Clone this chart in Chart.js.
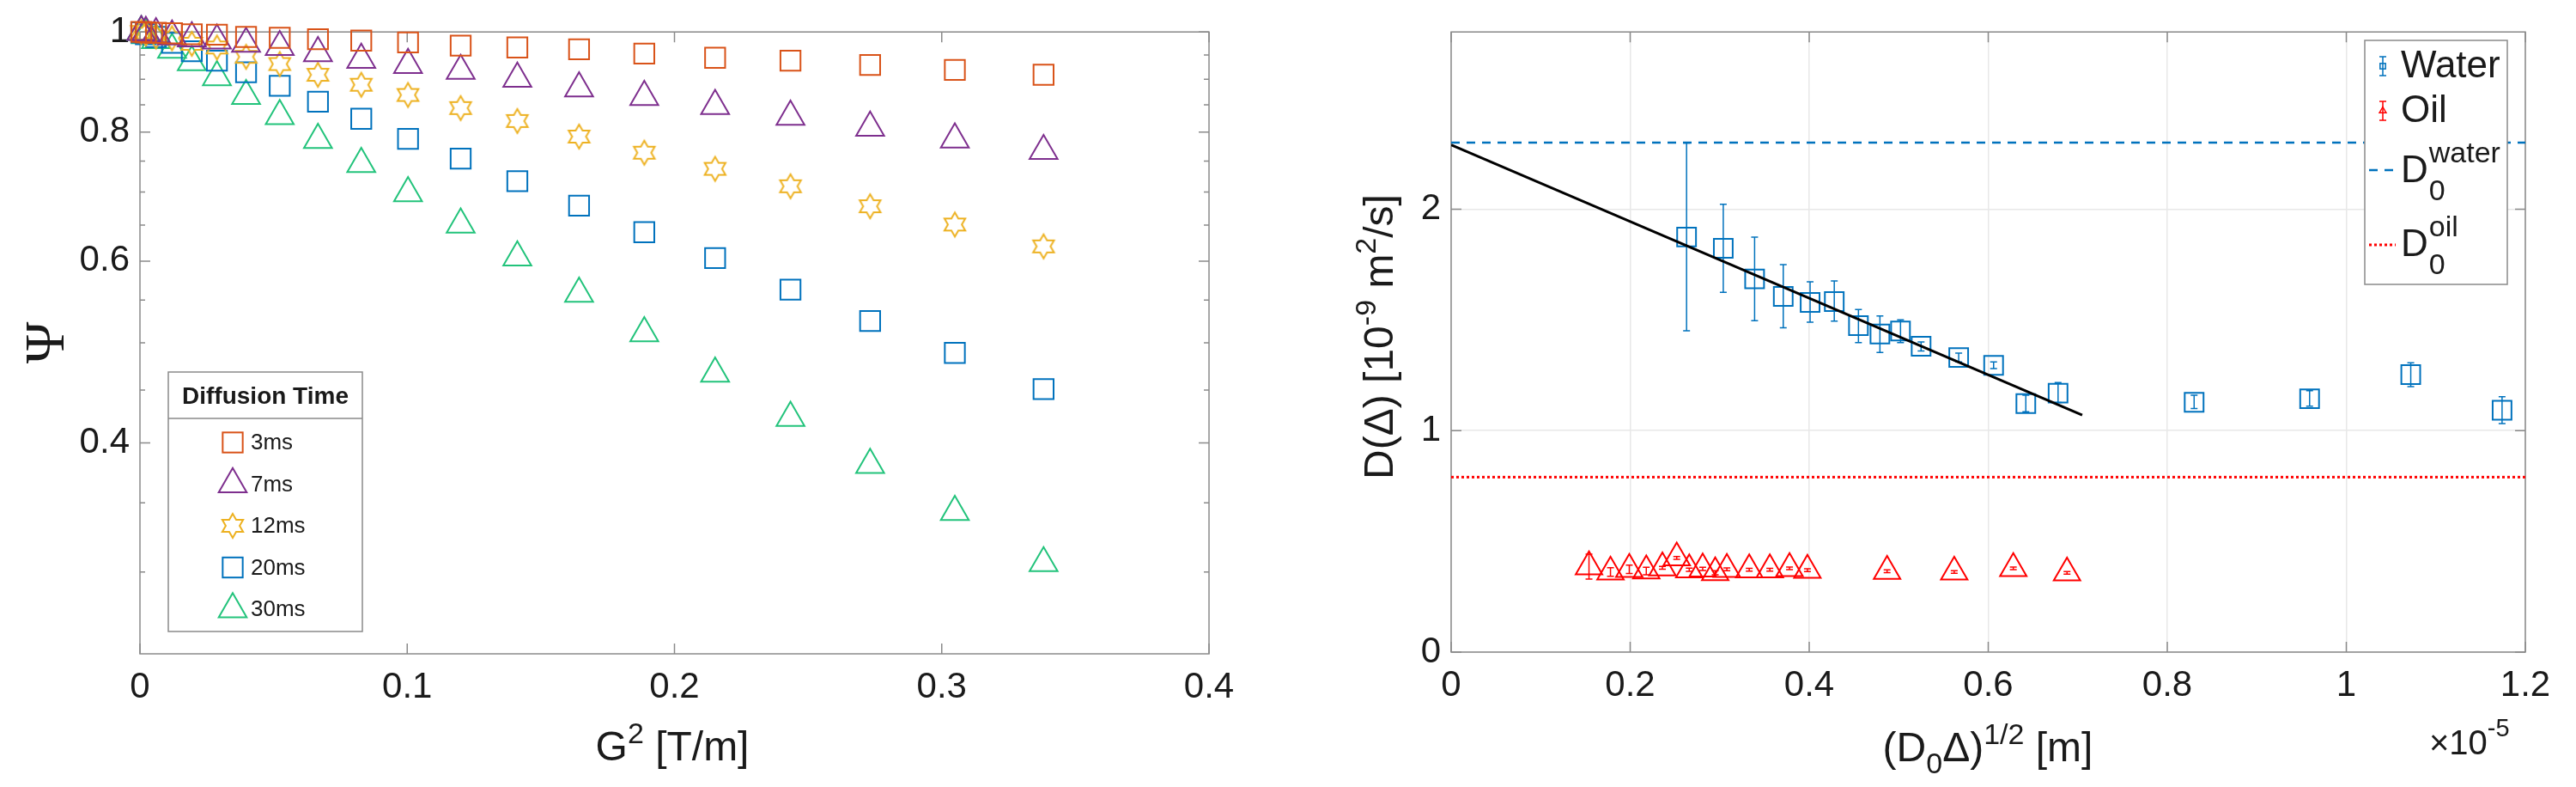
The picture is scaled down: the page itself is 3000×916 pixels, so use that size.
<!DOCTYPE html>
<html lang="en">
<head>
<meta charset="UTF-8">
<title>Diffusion time dependence</title>
<script src="https://cdn.jsdelivr.net/npm/chart.js"></script>
<style>
  html, body { margin: 0; padding: 0; background: #fff; }
  #wrap { position: relative; width: 3000px; height: 916px; }
  .panel { position: absolute; top: 0; width: 1500px; height: 916px; }
</style>
</head>
<body>
<div id="wrap">
  <div class="panel" style="left:0"><canvas id="left"></canvas></div>
  <div class="panel" style="left:1500px"><canvas id="right"></canvas></div>
</div>
<script>
// ---- left panel: signal attenuation vs G^2 ----
const g2 = [0.0005, 0.0022, 0.006, 0.012, 0.0194, 0.0288, 0.0397, 0.0523, 0.0666, 0.0828,
            0.1003, 0.12, 0.1412, 0.1643, 0.1887, 0.2152, 0.2434, 0.2732, 0.3049, 0.3381];
const psi3ms  = [1.0, 0.999, 0.998, 0.997, 0.995, 0.994, 0.989, 0.987, 0.984, 0.981,
                 0.977, 0.970, 0.966, 0.962, 0.953, 0.944, 0.938, 0.929, 0.919, 0.909];
const psi7ms  = [1.0, 0.998, 0.995, 0.990, 0.986, 0.981, 0.974, 0.967, 0.954, 0.940,
                 0.929, 0.917, 0.901, 0.882, 0.865, 0.848, 0.828, 0.808, 0.787, 0.767];
const psi12ms = [1.0, 0.996, 0.990, 0.986, 0.974, 0.966, 0.946, 0.931, 0.909, 0.889,
                 0.869, 0.844, 0.820, 0.792, 0.764, 0.737, 0.709, 0.678, 0.651, 0.620];
const psi20ms = [0.999, 0.995, 0.989, 0.976, 0.958, 0.938, 0.914, 0.887, 0.856, 0.824,
                 0.788, 0.754, 0.717, 0.679, 0.640, 0.604, 0.563, 0.525, 0.489, 0.451];
const psi30ms = [1.0, 0.993, 0.982, 0.961, 0.935, 0.904, 0.867, 0.829, 0.786, 0.745,
                 0.698, 0.651, 0.605, 0.558, 0.511, 0.467, 0.423, 0.381, 0.343, 0.306];
const diffusionLabels = ['3ms', '7ms', '12ms', '20ms', '30ms'];
const g2Ticks = [0, 0.1, 0.2, 0.3, 0.4];
const psiTicks = [0.4, 0.6, 0.8, 1];
const psiMinorTicks = [0.3, 0.35, 0.45, 0.5, 0.55, 0.65, 0.7, 0.75, 0.85, 0.9, 0.95];

// ---- right panel: D(Delta) vs (D0 Delta)^1/2, x in units of 1e-5 m ----
const waterX  = [0.263, 0.304, 0.339, 0.371, 0.401, 0.428, 0.455, 0.479, 0.502, 0.525,
                 0.567, 0.606, 0.642, 0.678, 0.830, 0.959, 1.072, 1.174];
const waterD  = [1.874, 1.823, 1.685, 1.606, 1.579, 1.583, 1.474, 1.436, 1.450, 1.381,
                 1.330, 1.295, 1.122, 1.169, 1.128, 1.144, 1.253, 1.092];
const waterLo = [1.451, 1.624, 1.496, 1.464, 1.490, 1.494, 1.397, 1.353, 1.397, 1.360,
                 1.310, 1.280, 1.085, 1.127, 1.100, 1.110, 1.199, 1.032];
const waterHi = [2.298, 2.022, 1.874, 1.750, 1.672, 1.676, 1.547, 1.518, 1.500, 1.400,
                 1.350, 1.310, 1.160, 1.217, 1.160, 1.180, 1.306, 1.153];
const oilX  = [0.154, 0.178, 0.199, 0.218, 0.236, 0.252, 0.266, 0.281, 0.295, 0.308,
               0.333, 0.356, 0.378, 0.398, 0.487, 0.562, 0.628, 0.688];
const oilD  = [0.386, 0.362, 0.374, 0.367, 0.381, 0.426, 0.372, 0.376, 0.359, 0.374,
               0.372, 0.372, 0.378, 0.370, 0.365, 0.362, 0.378, 0.358];
const oilLo = [0.330, 0.342, 0.355, 0.349, 0.374, 0.419, 0.365, 0.369, 0.349, 0.368,
               0.366, 0.366, 0.372, 0.364, 0.359, 0.356, 0.372, 0.352];
const oilHi = [0.442, 0.381, 0.393, 0.383, 0.387, 0.432, 0.379, 0.383, 0.368, 0.380,
               0.378, 0.378, 0.384, 0.376, 0.371, 0.368, 0.384, 0.364];
const fitX = [0, 0.705];
const fitD = [2.29, 1.07];
const d0Water = 2.3;
const d0Oil = 0.79;
const rootTicks = [0, 0.2, 0.4, 0.6, 0.8, 1, 1.2];
const dTicks = [0, 1, 2];

const FONT = "'Liberation Sans', Arial, Helvetica, sans-serif";
const INK = '#1a1a1a';
const FRAME = '#8a8a8a';
const C3 = '#D95319', C7 = '#7E2F8E', C12 = '#EDB120', C20 = '#0072BD', C30 = '#22C37B';
const WATER = '#0072BD', OIL = '#FF0000';

function hexagram(color, R, lw) {
  const size = Math.ceil(2 * R + 2 * lw + 2);
  const c = document.createElement('canvas');
  c.width = c.height = size;
  const g = c.getContext('2d');
  const m = size / 2;
  g.beginPath();
  for (let k = 0; k < 12; k++) {
    const a = -Math.PI / 2 + k * Math.PI / 6;
    const r = k % 2 ? R / Math.sqrt(3) : R;
    const px = m + r * Math.cos(a), py = m + r * Math.sin(a);
    k ? g.lineTo(px, py) : g.moveTo(px, py);
  }
  g.closePath();
  g.strokeStyle = color; g.lineWidth = lw; g.stroke();
  return c;
}
const starStyle = hexagram(C12, 14, 2);

function pts(xs, ys) { return xs.map((x, i) => ({x, y: ys[i]})); }
function errSegments(xs, lo, hi) {
  const out = [];
  xs.forEach((x, i) => out.push({x, y: lo[i]}, {x, y: hi[i]}, {x, y: null}));
  return out;
}

function drawMarker(ctx, style, x, y, r, color, lw) {
  ctx.save();
  ctx.strokeStyle = color; ctx.lineWidth = lw;
  if (style === 'rect') {
    const s = r * Math.SQRT1_2;
    ctx.strokeRect(x - s, y - s, 2 * s, 2 * s);
  } else if (style === 'triangle') {
    ctx.beginPath();
    ctx.moveTo(x, y - r);
    ctx.lineTo(x + r * 0.866, y + r / 2);
    ctx.lineTo(x - r * 0.866, y + r / 2);
    ctx.closePath(); ctx.stroke();
  } else if (style && style.getContext) {
    ctx.drawImage(style, x - style.width / 2, y - style.height / 2);
  }
  ctx.restore();
}

// text with sub/superscripts: parts = [text, px, dy]
function rich(ctx, parts, x, y, align) {
  let w = 0;
  for (const p of parts) { ctx.font = p[1] + 'px ' + FONT; w += ctx.measureText(p[0]).width; }
  let cx = align === 'center' ? x - w / 2 : x;
  ctx.textAlign = 'left'; ctx.textBaseline = 'alphabetic';
  for (const p of parts) {
    ctx.font = p[1] + 'px ' + FONT;
    ctx.fillText(p[0], cx, y + p[2]);
    cx += ctx.measureText(p[0]).width;
  }
}

function framePlugin(cfg) {
  return {
    id: 'frame',
    beforeDatasetsDraw(chart) {
      const {ctx, chartArea: a} = chart;
      const sx = chart.scales.x, sy = chart.scales.y;
      ctx.save();
      ctx.strokeStyle = FRAME; ctx.lineWidth = 1.5;
      ctx.beginPath();
      cfg.xTicks.forEach(v => {
        const p = sx.getPixelForValue(v);
        ctx.moveTo(p, a.bottom); ctx.lineTo(p, a.bottom - 12);
        ctx.moveTo(p, a.top); ctx.lineTo(p, a.top + 12);
      });
      cfg.yTicks.forEach(v => {
        const p = sy.getPixelForValue(v);
        ctx.moveTo(a.left, p); ctx.lineTo(a.left + 12, p);
        ctx.moveTo(a.right, p); ctx.lineTo(a.right - 12, p);
      });
      (cfg.yMinor || []).forEach(v => {
        const p = sy.getPixelForValue(v);
        ctx.moveTo(a.left, p); ctx.lineTo(a.left + 6, p);
        ctx.moveTo(a.right, p); ctx.lineTo(a.right - 6, p);
      });
      ctx.stroke();
      ctx.strokeRect(a.left, a.top, a.right - a.left, a.bottom - a.top);
      ctx.restore();
    },
    afterDraw(chart) { cfg.decorate(chart.ctx, chart); }
  };
}

function markerSet(label, ys, style, color, r) {
  return {
    label, data: pts(g2, ys), pointStyle: style, pointRadius: r, pointHoverRadius: r,
    borderColor: color, pointBorderColor: color, backgroundColor: 'transparent',
    pointBackgroundColor: 'transparent', pointBorderWidth: 2, borderWidth: 2,
    showLine: false, clip: false
  };
}

function tickScale(type, min, max, ticks, pad, fit) {
  return {
    type, min, max,
    afterBuildTicks: s => { s.ticks = ticks.map(v => ({value: v})); },
    ticks: { font: {family: FONT, size: 42}, color: INK, padding: pad, callback: v => String(v) },
    afterFit: fit
  };
}

Chart.defaults.font.family = FONT;

// ---------- left chart ----------
const leftX = tickScale('linear', 0, 0.4, g2Ticks, 14, s => { s.height = 155; });
leftX.grid = {display: false, drawTicks: false};
leftX.border = {display: false};
const leftY = tickScale('logarithmic', 0.25, 1, psiTicks, 12, s => { s.width = 163; });
leftY.grid = {display: false, drawTicks: false};
leftY.border = {display: false};

new Chart(document.getElementById('left'), {
  type: 'scatter',
  data: {
    datasets: [
      markerSet(diffusionLabels[0], psi3ms, 'rect', C3, 16.5),
      markerSet(diffusionLabels[1], psi7ms, 'triangle', C7, 18.8),
      markerSet(diffusionLabels[2], psi12ms, starStyle, C12, 14),
      markerSet(diffusionLabels[3], psi20ms, 'rect', C20, 16.5),
      markerSet(diffusionLabels[4], psi30ms, 'triangle', C30, 18.8)
    ]
  },
  options: {
    responsive: true, maintainAspectRatio: false, animation: false, events: [],
    layout: {padding: {top: 37, right: 92, left: 0, bottom: 0}},
    scales: {x: leftX, y: leftY},
    plugins: {legend: {display: false}, tooltip: {enabled: false}}
  },
  plugins: [framePlugin({
    xTicks: g2Ticks, yTicks: psiTicks, yMinor: psiMinorTicks,
    decorate(ctx, chart) {
      ctx.save();
      ctx.fillStyle = INK;
      rich(ctx, [['G', 48, 0], ['2', 34, -20], [' [T/m]', 48, 0]], 783, 885, 'center');
      ctx.translate(74, 399); ctx.rotate(-Math.PI / 2);
      ctx.font = "66px 'Liberation Serif', 'DejaVu Serif', serif";
      ctx.textAlign = 'center'; ctx.textBaseline = 'alphabetic';
      ctx.fillText('Ψ', 0, 0);
      ctx.restore();

      // legend box
      const L = 196, T = 433, R = 422, B = 735, SEP = 487;
      ctx.save();
      ctx.fillStyle = '#fff'; ctx.fillRect(L, T, R - L, B - T);
      ctx.strokeStyle = FRAME; ctx.lineWidth = 1.5;
      ctx.strokeRect(L, T, R - L, B - T);
      ctx.beginPath(); ctx.moveTo(L, SEP); ctx.lineTo(R, SEP); ctx.stroke();
      ctx.fillStyle = INK; ctx.textBaseline = 'middle'; ctx.textAlign = 'center';
      ctx.font = 'bold 28px ' + FONT;
      ctx.fillText('Diffusion Time', (L + R) / 2, 462);
      ctx.font = '26px ' + FONT; ctx.textAlign = 'left';
      chart.data.datasets.forEach((ds, i) => {
        const yy = 515 + i * 48.5;
        drawMarker(ctx, ds.pointStyle, 271, yy, ds.pointRadius, ds.borderColor, 2);
        ctx.fillStyle = INK;
        ctx.fillText(ds.label, 292, yy + 1);
      });
      ctx.restore();
    }
  })]
});

// ---------- right chart ----------
const rightX = tickScale('linear', 0, 1.2, rootTicks, 14, s => { s.height = 157; });
rightX.grid = {color: '#e8e8e8', lineWidth: 1.5, drawTicks: false};
rightX.border = {display: false};
const rightY = tickScale('linear', 0, 2.8, dTicks, 12, s => { s.width = 190; });
rightY.grid = {color: '#e8e8e8', lineWidth: 1.5, drawTicks: false};
rightY.border = {display: false};

function errLine(label, xs, lo, hi, color) {
  return {
    type: 'line', label, data: errSegments(xs, lo, hi), spanGaps: false,
    borderColor: color, borderWidth: 1.5, pointStyle: 'line', pointRadius: 4,
    pointHoverRadius: 4, pointBorderColor: color, pointBorderWidth: 1.5, fill: false
  };
}

new Chart(document.getElementById('right'), {
  type: 'scatter',
  data: {
    datasets: [
      {type: 'line', label: 'fit', data: pts(fitX, fitD), borderColor: '#000', borderWidth: 3,
       pointRadius: 0, fill: false},
      {label: 'Water', data: pts(waterX, waterD), pointStyle: 'rect', pointRadius: 15.5,
       pointHoverRadius: 15.5, borderColor: WATER, pointBorderColor: WATER,
       pointBackgroundColor: 'transparent', backgroundColor: 'transparent', pointBorderWidth: 2},
      errLine('Water err', waterX, waterLo, waterHi, WATER),
      {label: 'Oil', data: pts(oilX, oilD), pointStyle: 'triangle', pointRadius: 17.8,
       pointHoverRadius: 17.8, borderColor: OIL, pointBorderColor: OIL,
       pointBackgroundColor: 'transparent', backgroundColor: 'transparent', pointBorderWidth: 2},
      errLine('Oil err', oilX, oilLo, oilHi, OIL),
      {type: 'line', label: 'D0 water', data: [{x: 0, y: d0Water}, {x: 1.2, y: d0Water}],
       borderColor: WATER, borderWidth: 2.5, borderDash: [10, 8], pointRadius: 0, fill: false},
      {type: 'line', label: 'D0 oil', data: [{x: 0, y: d0Oil}, {x: 1.2, y: d0Oil}],
       borderColor: OIL, borderWidth: 3, borderDash: [3, 3], pointRadius: 0, fill: false}
    ]
  },
  options: {
    responsive: true, maintainAspectRatio: false, animation: false, events: [],
    layout: {padding: {top: 31, right: 59, left: 0, bottom: 0}},
    scales: {x: rightX, y: rightY},
    plugins: {legend: {display: false}, tooltip: {enabled: false}}
  },
  plugins: [framePlugin({
    xTicks: rootTicks, yTicks: dTicks,
    decorate(ctx, chart) {
      ctx.save();
      ctx.fillStyle = INK;
      rich(ctx, [['(D', 48, 0], ['0', 34, 14], ['Δ)', 48, 0], ['1/2', 34, -20], [' [m]', 48, 0]],
           815, 886, 'center');
      rich(ctx, [['×10', 40, 0], ['-5', 29, -21]], 1329, 878, 'left');
      ctx.translate(122, 392); ctx.rotate(-Math.PI / 2);
      rich(ctx, [['D(Δ) [10', 48, 0], ['-9', 34, -20], [' m', 48, 0], ['2', 34, -20], ['/s]', 48, 0]],
           0, 0, 'center');
      ctx.restore();

      // legend box
      const ds = chart.data.datasets;
      const L = 1254, T = 47, R = 1420, B = 331;
      ctx.save();
      ctx.fillStyle = '#fff'; ctx.fillRect(L, T, R - L, B - T);
      ctx.strokeStyle = FRAME; ctx.lineWidth = 1.5;
      ctx.strokeRect(L, T, R - L, B - T);
      const icons = [[ds[1], 77], [ds[3], 129]];
      icons.forEach(([d, yy]) => {
        ctx.strokeStyle = d.borderColor; ctx.lineWidth = 1.5;
        ctx.beginPath();
        ctx.moveTo(1275, yy - 11); ctx.lineTo(1275, yy + 11);
        ctx.moveTo(1271, yy - 11); ctx.lineTo(1279, yy - 11);
        ctx.moveTo(1271, yy + 11); ctx.lineTo(1279, yy + 11);
        ctx.stroke();
        drawMarker(ctx, d.pointStyle, 1275, yy, 4.5, d.borderColor, 1.5);
      });
      ctx.fillStyle = INK; ctx.textAlign = 'left'; ctx.textBaseline = 'middle';
      ctx.font = '44px ' + FONT;
      ctx.fillText(ds[1].label, 1296, 78);
      ctx.fillText(ds[3].label, 1296, 130);
      [[ds[5], 198, 212, 'water'], [ds[6], 285, 298, 'oil']].forEach(([d, ly, base, sup]) => {
        ctx.save();
        ctx.strokeStyle = d.borderColor; ctx.lineWidth = d.borderWidth;
        ctx.setLineDash(d.borderDash);
        ctx.beginPath(); ctx.moveTo(1259, ly); ctx.lineTo(1290, ly); ctx.stroke();
        ctx.restore();
        ctx.textBaseline = 'alphabetic';
        ctx.font = '44px ' + FONT;
        ctx.fillText('D', 1296, base);
        const dx = 1296 + ctx.measureText('D').width + 1;
        ctx.font = '34px ' + FONT;
        ctx.fillText('0', dx, base + 21);
        ctx.fillText(sup, dx, base - 23);
      });
      ctx.restore();
    }
  })]
});
</script>
</body>
</html>
